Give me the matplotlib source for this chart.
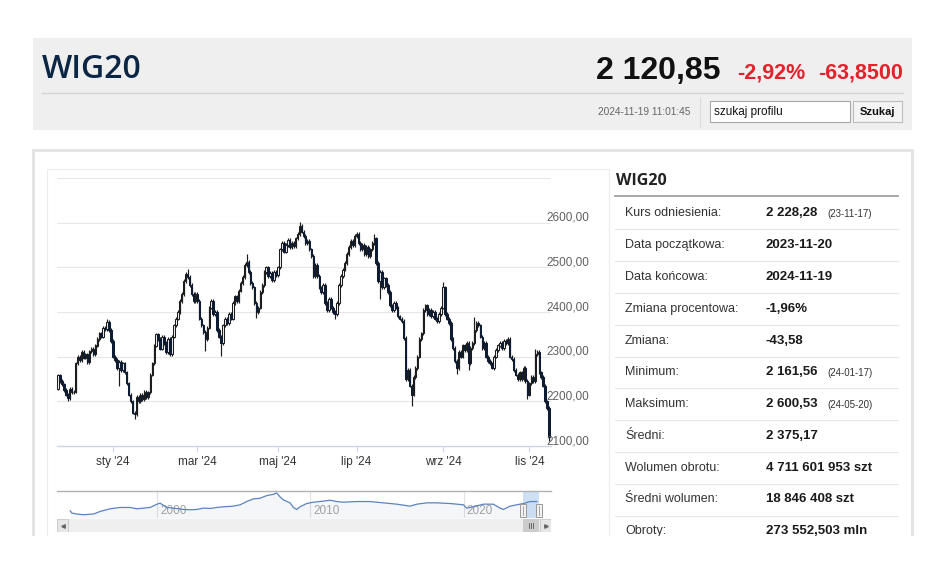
import numpy as np
import pandas as pd
import matplotlib
matplotlib.use('Agg')
import matplotlib.pyplot as plt
import matplotlib.transforms as mtransforms
from matplotlib.patches import Rectangle
from matplotlib.lines import Line2D

plt.rcParams['font.family'] = ['Liberation Sans', 'DejaVu Sans']

# ---- data -------------------------------------------------------------
HOLIDAYS = ['2023-12-25', '2023-12-26', '2024-01-01', '2024-03-29', '2024-04-01',
            '2024-05-01', '2024-05-03', '2024-05-30', '2024-08-15', '2024-11-01',
            '2024-11-11']
reference_close = 2228.28  # 23-11-17

closes = [
    # lis '23
    2258, 2245, 2238, 2225, 2215, 2208, 2228, 2220, 2222,
    # gru '23
    2285, 2300, 2292, 2310, 2298, 2305, 2288, 2312, 2318, 2305, 2325, 2340, 2352,
    2345, 2365, 2362, 2378, 2360, 2335,
    # sty '24
    2300, 2292, 2275, 2288, 2270, 2285, 2265, 2240, 2215, 2200, 2175, 2172, 2210,
    2200, 2215, 2205, 2222, 2210, 2220, 2260, 2285, 2325,
    # lut '24
    2350, 2340, 2318, 2345, 2330, 2310, 2340, 2305, 2345, 2370, 2385, 2400, 2425,
    2440, 2470, 2485, 2478, 2460, 2440, 2425, 2440,
    # mar '24
    2425, 2385, 2370, 2355, 2340, 2365, 2410, 2425, 2395, 2400, 2360, 2345, 2330,
    2370, 2385, 2375, 2395, 2385, 2420, 2435,
    # kwi '24
    2425, 2448, 2465, 2478, 2505, 2512, 2490, 2465, 2455, 2420, 2400, 2410, 2445,
    2460, 2490, 2500, 2480, 2488, 2472, 2490, 2482,
    # maj '24
    2500, 2540, 2555, 2535, 2550, 2562, 2545, 2555, 2548, 2565, 2575, 2592, 2580,
    2570, 2555, 2560, 2540, 2525, 2480, 2505,
    # cze '24
    2480, 2455, 2445, 2460, 2420, 2405, 2430, 2410, 2400, 2395, 2420, 2460, 2480,
    2495, 2510, 2530, 2545, 2560, 2550, 2570,
    # lip '24
    2575, 2555, 2540, 2550, 2530, 2545, 2525, 2540, 2555, 2565, 2510, 2470, 2490,
    2455, 2475, 2460, 2445, 2415, 2405, 2420, 2410, 2390, 2385,
    # sie '24
    2380, 2342, 2250, 2270, 2235, 2215, 2255, 2275, 2300, 2340, 2352, 2405, 2415,
    2395, 2405, 2390, 2400, 2385, 2380, 2395, 2410,
    # wrz '24
    2455, 2395, 2385, 2375, 2340, 2320, 2290, 2275, 2310, 2300, 2325, 2315, 2330,
    2285, 2320, 2330, 2360, 2375, 2370, 2345, 2320,
    # paz '24
    2330, 2300, 2290, 2285, 2275, 2300, 2315, 2325, 2330, 2320, 2335, 2330, 2340,
    2300, 2295, 2270, 2260, 2250, 2265, 2250, 2275, 2245, 2215,
    # lis '24
    2240, 2255, 2245, 2305, 2310, 2265, 2255, 2235, 2200, 2184.70, 2120.85,
]

# long wicks (index of trading day -> price)
high_marks = {25: 2384, 66: 2496, 96: 2530, 123: 2600.53, 152: 2580, 161: 2575,
              196: 2467, 212: 2389, 243: 2318}
low_marks = {5: 2200, 31: 2235, 39: 2161.56, 75: 2313, 83: 2302, 101: 2387,
             141: 2385, 164: 2430, 180: 2190, 203: 2262, 209: 2270, 221: 2272,
             239: 2205, 250: 2112}
wick = 4.0

price_levels = [2100, 2200, 2300, 2400, 2500, 2600, 2700]
tick_months = [(2024, 1), (2024, 3), (2024, 5), (2024, 7), (2024, 9), (2024, 11)]
tick_names = ["sty '24", "mar '24", "maj '24", "lip '24", "wrz '24", "lis '24"]

nav_years = [1994.34, 1994.45, 1994.78, 1995.21, 1995.86, 1996.30, 1996.95, 1997.60,
             1998.25, 1998.69, 1999.12, 1999.56, 2000.00, 2000.20, 2000.64, 2001.07,
             2001.73, 2002.16, 2002.60, 2003.03, 2003.46, 2003.90, 2004.33, 2004.98,
             2005.42, 2005.85, 2006.29, 2006.72, 2007.16, 2007.60, 2007.81, 2008.03,
             2008.25, 2008.68, 2008.90, 2009.12, 2009.33, 2009.77, 2010.20, 2010.64,
             2011.29, 2011.73, 2012.16, 2013.03, 2013.90, 2014.77, 2015.64, 2016.51,
             2016.95, 2017.60, 2018.25, 2019.12, 2019.99, 2020.20, 2020.64, 2021.29,
             2021.94, 2022.38, 2022.60, 2023.03, 2023.68, 2023.90, 2024.34, 2024.77]
nav_levels = [1362, 1033, 892, 798, 892, 1268, 1644, 1832, 1832, 1644, 1738, 1832,
              2302, 2443, 1832, 1738, 1550, 1503, 1550, 1738, 1691, 1832, 1926, 2020,
              2208, 2678, 3054, 3148, 3524, 3712, 3900, 3336, 2913, 2490, 1832, 1550,
              1926, 2396, 2584, 2678, 2866, 2678, 2584, 2678, 2678, 2490, 2302, 2020,
              2302, 2490, 2490, 2396, 2208, 1738, 1926, 2302, 2302, 1738, 1550, 2020,
              2302, 2396, 2678, 2678]
nav_decades = [2000, 2010, 2020]

stat_labels = ['Kurs odniesienia:', 'Data początkowa:', 'Data końcowa:',
               'Zmiana procentowa:', 'Zmiana:', 'Minimum:', 'Maksimum:', 'Średni:',
               'Wolumen obrotu:', 'Średni wolumen:', 'Obroty:']
stat_values = ['2 228,28', '2023-11-20', '2024-11-19', '-1,96%', '-43,58', '2 161,56',
               '2 600,53', '2 375,17', '4 711 601 953 szt', '18 846 408 szt',
               '273 552,503 mln']
stat_notes = ['(23-11-17)', '', '', '', '', '(24-01-17)', '(24-05-20)', '', '', '', '']

# ---- derived OHLC -----------------------------------------------------
dates = pd.bdate_range('2023-11-20', '2024-11-19', freq='C', holidays=HOLIDAYS)
close = np.array(closes, dtype=float)
assert len(dates) == len(close)
idx = np.arange(len(close))
opens = np.concatenate([[reference_close], close[:-1]])
highs = np.maximum(opens, close) + wick
lows = np.minimum(opens, close) - wick
for k, v in high_marks.items():
    highs[k] = v
for k, v in low_marks.items():
    lows[k] = v
up = close >= opens

tick_idx = [int(np.where((dates.year == y) & (dates.month == m))[0][0]) for y, m in tick_months]


def frac_year(d):
    return d.year + (d.dayofyear - 1) / 365.0


sel0, sel1 = frac_year(dates[0]), frac_year(dates[-1])

# ---- figure helpers ---------------------------------------------------
W, H = 948, 563
fig = plt.figure(figsize=(W / 100, H / 100), dpi=100)
fig.patch.set_facecolor('white')

HEAD = ['Open Sans', 'DejaVu Sans']
RED = '#e5212b'


def fx(x):
    return x / W


def fy(y):
    return 1 - y / H


def rect(x0, y0, x1, y1, **kw):
    r = Rectangle((fx(x0), fy(y1)), (x1 - x0) / W, (y1 - y0) / H,
                  transform=fig.transFigure, **kw)
    fig.add_artist(r)
    return r


def line(x0, y0, x1, y1, **kw):
    fig.add_artist(Line2D([fx(x0), fx(x1)], [fy(y0), fy(y1)],
                          transform=fig.transFigure, **kw))


def text(x, y, s, **kw):
    return fig.text(fx(x), fy(y), s, **kw)


# ---- header -----------------------------------------------------------
rect(33, 38, 912, 130, facecolor='#efefef', edgecolor='none', zorder=0)
text(42, 78, 'WIG20', family=HEAD, weight='semibold', size=23, color='#0b2545', va='baseline')
text(720, 79, '2 120,85', weight='bold', size=23, color='#111111',
     ha='right', va='baseline')
text(737, 79, '-2,92%', weight='bold', size=15.5, color=RED, va='baseline')
text(903, 79, '-63,8500', weight='bold', size=15.5, color=RED,
     ha='right', va='baseline')
line(42, 92.5, 903, 92.5, color='#d4d4d4', lw=1)
text(690, 112, '2024-11-19 11:01:45', size=7.3, color='#666666',
     ha='right', va='center')
line(700, 98, 700, 127, color='#dadada', lw=0.8)
rect(710, 101, 850, 122, facecolor='white', edgecolor='#a8a8a8', lw=0.8)
text(714, 111.5, 'szukaj profilu', size=8.5, color='#111111', va='center')
rect(853, 101, 902, 122, facecolor='#f4f4f4', edgecolor='#bdbdbd', lw=0.8)
text(877.5, 112, 'Szukaj', weight='bold', size=8, color='#111111',
     ha='center', va='center')

# ---- content frames ---------------------------------------------------
rect(33, 150, 912, 560, facecolor='white', edgecolor='#e2e2e2', lw=2, zorder=0)
rect(47, 169, 609, 560, facecolor='none', edgecolor='#ececec', lw=0.8, zorder=0)

# ---- candlestick chart ------------------------------------------------
ax = fig.add_axes([fx(57), fy(446), (551 - 57) / W, (446 - 178) / H])
ax.set_xlim(-0.5, 251)
ax.set_ylim(price_levels[0], price_levels[-1])
for v in price_levels[1:]:
    ax.axhline(v, color='#e6e6e6', lw=0.8, zorder=0)

ax.vlines(idx, lows, highs, color='#1c1c1c', lw=0.85, zorder=2)
body_lo = np.minimum(opens, close)
body_h = np.maximum(np.abs(close - opens), 0.8)
ax.bar(idx[up], body_h[up], bottom=body_lo[up], width=0.72, facecolor='#f4f4f4',
       edgecolor='#1c1c1c', lw=0.75, zorder=3)
ax.bar(idx[~up], body_h[~up], bottom=body_lo[~up], width=0.72, facecolor='#0d1c33',
       edgecolor='#0d1c33', lw=0.75, zorder=3)

for s in ('top', 'left', 'right'):
    ax.spines[s].set_visible(False)
ax.spines['bottom'].set_color('#ccd6eb')
ax.spines['bottom'].set_linewidth(1)
ax.set_yticks([])
ax.set_xticks(tick_idx, tick_names)
ax.tick_params(axis='x', length=4.5, width=0.8, color='#ccd6eb', labelsize=8.5,
               labelcolor='#333333', pad=2.5)

ylab_tr = mtransforms.offset_copy(
    mtransforms.blended_transform_factory(ax.transAxes, ax.transData),
    fig=fig, x=0, y=2, units='dots')
for v in price_levels[:-1]:
    ax.text((546 - 57) / 494, v, f'{v},00', transform=ylab_tr, ha='left', va='baseline',
            size=8.5, color='#606060', clip_on=False)

# ---- navigator ----------------------------------------------------------
nav = fig.add_axes([fx(57), fy(518), 494 / W, 27 / H])
nav.set_xlim(1993.48, 2025.7)
nav.set_ylim(328, 4182)
nav.fill_between(nav_years, nav_levels, 328, color='#4572a7', alpha=0.06, lw=0)
nav.plot(nav_years, nav_levels, color='#5a82c0', lw=0.9, zorder=3)
for yr in nav_decades:
    nav.axvline(yr, color='#e2e2e2', lw=0.8, zorder=0)
    nav.text(yr + 0.2, 0.27, str(yr), transform=nav.get_xaxis_transform(),
             size=8.5, color='#a0a0a0', va='center', ha='left', zorder=2)
nav.axvspan(sel0, sel1, color='#b9d3f0', alpha=0.7, lw=0, zorder=1)
for s in ('left', 'right', 'bottom'):
    nav.spines[s].set_visible(False)
nav.spines['top'].set_color('#b2b1b6')
nav.spines['top'].set_linewidth(1)
nav.set_xticks([])
nav.set_yticks([])

span = nav.get_xlim()[1] - nav.get_xlim()[0]
hw = 6 * span / 494
htr = mtransforms.blended_transform_factory(nav.transData, nav.transAxes)
for yr in (sel0, sel1):
    nav.add_patch(Rectangle((yr - hw / 2, 0.02), hw, 0.5, transform=htr, facecolor='#f2f2f2',
                            edgecolor='#999999', lw=0.7, zorder=4, clip_on=False))
    nav.plot([yr, yr], [0.1, 0.44], transform=htr, color='#999999', lw=0.6, zorder=5)

# ---- scrollbar ----------------------------------------------------------
sb = fig.add_axes([fx(57), fy(532), 494 / W, 13 / H])
sb.set_xlim(nav.get_xlim())
sb.set_ylim(0, 1)
sb.set_facecolor('#efefef')
for s in sb.spines.values():
    s.set_visible(False)
sb.set_xticks([])
sb.set_yticks([])
bw = 11 / 494
for x0, mk in ((0, '<'), (1 - bw, '>')):
    sb.add_patch(Rectangle((x0, 0), bw, 1, transform=sb.transAxes, facecolor='#e6e6e6',
                           edgecolor='#cccccc', lw=0.7))
    sb.plot(x0 + bw / 2, 0.5, marker=mk, ms=2.5, color='#666666', transform=sb.transAxes)
sb.axvspan(sel0, sel1, color='#cccccc', lw=0)
mid = (sel0 + sel1) / 2
for off in (-0.12, 0, 0.12):
    sb.plot([mid + off, mid + off], [0.3, 0.7], color='#555555', lw=0.6)

# ---- statistics table ---------------------------------------------------
text(616, 181, 'WIG20', family=HEAD, weight='bold', size=11.5, color='#222222', va='center')
line(615, 196, 898, 196, color='#a0a0a0', lw=1.3)
for k, (lab, val, note) in enumerate(zip(stat_labels, stat_values, stat_notes)):
    yc = 213.3 + k * 31.8
    text(625, yc, lab, size=9, color='#333333', va='center')
    text(766, yc, val, size=9.5, weight='bold', color='#1a1a1a', va='center')
    if note:
        text(827, yc + 0.5, note, size=7, color='#333333', va='center')
    line(615, yc + 16, 898, yc + 16, color='#e6e6e6', lw=0.8)

# screenshot is cut off below the scrollbar
rect(0, 536, W, H, facecolor='white', edgecolor='none', zorder=50)

fig.savefig('out.png', dpi=100)
